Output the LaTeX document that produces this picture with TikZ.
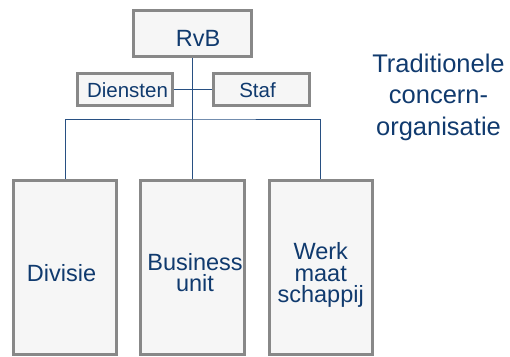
\documentclass[tikz,border=0pt]{standalone}
\usepackage{fontspec}
\setmainfont{Liberation Sans}
\usetikzlibrary{backgrounds}
\definecolor{ink}{RGB}{16,58,110}
\definecolor{wirec}{RGB}{40,80,130}
\definecolor{frame}{RGB}{136,136,136}
\definecolor{panel}{RGB}{246,246,246}
\begin{document}
\begin{tikzpicture}[x=1pt,y=-1pt,
  box/.style={draw=frame, fill=panel, line width=3pt, inner sep=0pt},
  unitbox/.style={box, minimum width=103.6pt, minimum height=173.2pt},
  wire/.style={draw=wirec, line width=1pt},
  lbl/.style={text=ink, inner sep=0pt, align=center},
  big/.style={font=\fontsize{23.5}{21.5}\selectfont},
  small/.style={font=\fontsize{20.5}{20.5}\selectfont},
]
\useasboundingbox (0,0) rectangle (510,356);

% board and its support units
\node[box, minimum width=118pt, minimum height=46pt] (rvb) at (192.7,33) {};
\node[box, minimum width=95.3pt, minimum height=32.6pt] (dien) at (124.85,89.5) {};
\node[box, minimum width=96pt, minimum height=32.6pt] (staf) at (261.2,89.5) {};

% operating units
\node[unitbox] (div) at (65,267.4) {};
\node[unitbox] (bu) at (192.7,267.4) {};
\node[unitbox] (wm) at (320.8,267.4) {};

% reporting lines
\coordinate (bar) at (192.7,119);
\begin{pgfonlayer}{background}
  \draw[wire] (rvb.south) -- (bu.north);
  \draw[wire] (dien.east) -- (staf.west);
  \draw[wire] (div.north) |- (bar) -| (wm.north);
\end{pgfonlayer}

% labels
\node[lbl, big, anchor=base] (rvbt) at (198,46.7) {RvB};
\node[lbl, small, anchor=base] (dient) at (127.5,97.3) {Diensten};
\node[lbl, small, anchor=base] (staft) at (257.5,97.3) {Staf};
\node[lbl, big, anchor=base] (divt) at (61.5,281) {Divisie};
\node[lbl, big] (but) at (195,272.8) {Business\\unit};
\node[lbl, big] (wmt) at (320.7,275) {Werk\\maat\\schappij};

% title
\node[lbl, font=\fontsize{25.5}{31.5}\selectfont] (title) at (438.5,97)
  {Traditionele\\concern-\\organisatie};
\end{tikzpicture}
\end{document}
